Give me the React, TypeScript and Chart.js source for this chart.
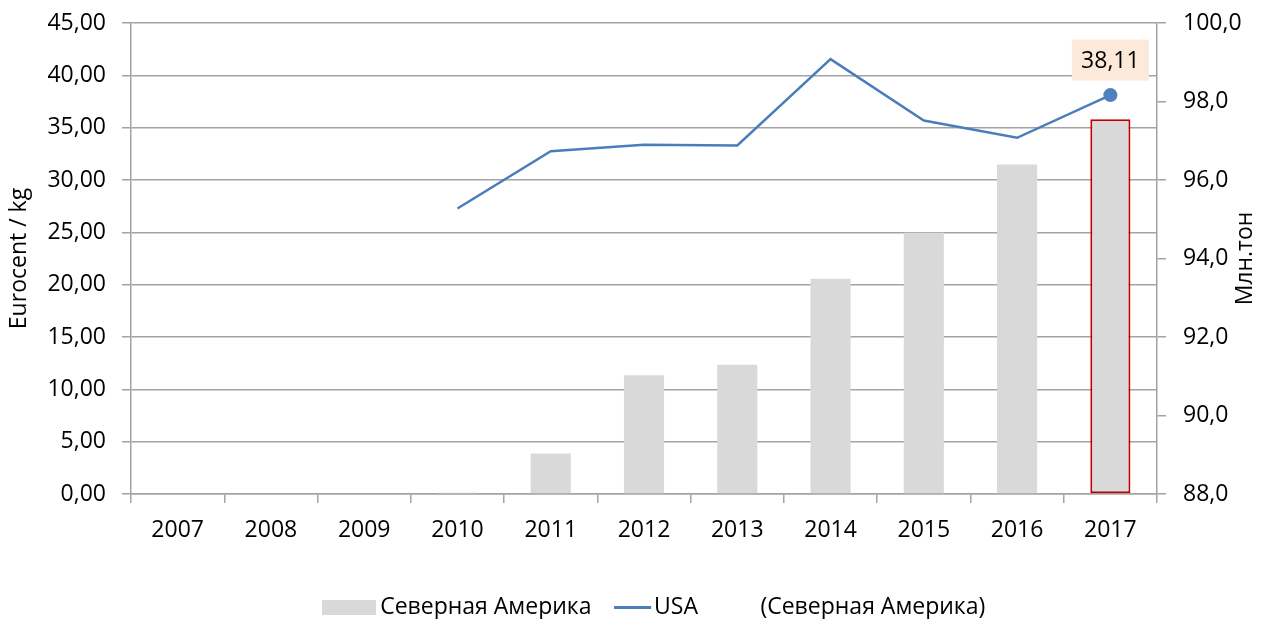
import React, { useEffect, useRef } from "react";
import { Chart, registerables } from "chart.js";

Chart.register(...registerables);

const years = ["2007", "2008", "2009", "2010", "2011", "2012", "2013", "2014", "2015", "2016", "2017"];
const northAmerica = [null, null, null, 0.12, 3.87, 11.35, 12.35, 20.56, 24.95, 31.47, 35.8];
const usa = [null, null, null, 27.28, 32.75, 33.36, 33.3, 41.55, 35.69, 34.03, 38.11];
const highlight = [null, null, null, null, null, null, null, null, null, null, null];

const seriesNames = ["Северная Америка", "USA", "(Северная Америка)"];
const leftTitle = "Eurocent / kg";
const rightTitle = "Млн.тон";

const FONT = "'Open Sans', 'Noto Sans', sans-serif";
const FS = 23;
const GRID = "#a3a3a3";
const BLUE = "#4a7ebb";
const GRAY = "#d9d9d9";
const RED = "#c00000";

function makeMarker(w: number, h: number, color: string | null, x0 = 0, x1 = w) {
  const c = document.createElement("canvas");
  c.width = w;
  c.height = h;
  const ctx = c.getContext("2d")!;
  if (color) {
    ctx.fillStyle = color;
    ctx.fillRect(x0, 0, x1 - x0, h);
  }
  return c;
}

const labelPlugin = {
  id: "lastLabel",
  afterDatasetsDraw(chart: any) {
    const meta = chart.getDatasetMeta(1);
    const data = chart.data.datasets[1].data;
    const idx = data.length - 1;
    const pt = meta.data[idx];
    if (!pt) return;
    const ctx = chart.ctx;
    const text = Number(data[idx]).toFixed(2).replace(".", ",");
    const cx = pt.x;
    const cy = pt.y - 35;
    ctx.save();
    ctx.fillStyle = "#fde9d9";
    ctx.fillRect(cx - 38.5, cy - 20.5, 77, 41);
    ctx.fillStyle = "#000";
    ctx.font = `${FS}px ${FONT}`;
    ctx.textAlign = "center";
    ctx.textBaseline = "middle";
    ctx.fillText(text, cx, cy + 1);
    ctx.restore();
  },
};

const rightTitlePlugin = {
  id: "rightTitle",
  afterDraw(chart: any) {
    const { ctx, chartArea } = chart;
    ctx.save();
    ctx.translate(1245, (chartArea.top + chartArea.bottom) / 2);
    ctx.rotate(-Math.PI / 2);
    ctx.fillStyle = "#000";
    ctx.font = `${FS}px ${FONT}`;
    ctx.textAlign = "center";
    ctx.textBaseline = "middle";
    ctx.fillText(rightTitle, 0, 0);
    ctx.restore();
  },
};

const legendShiftPlugin = {
  id: "legendShift",
  afterLayout(chart: any) {
    if (chart.legend) {
      chart.legend.left += 27;
      chart.legend.right += 27;
    }
  },
};

export default function App() {
  const ref = useRef<HTMLCanvasElement | null>(null);
  useEffect(() => {
    if (!ref.current) return;
    const n = years.length;
    const markers = [
      makeMarker(54, 15, GRAY),
      makeMarker(80, 3, BLUE, 31, 68),
      makeMarker(2, 2, null),
    ];
    const chart = new Chart(ref.current, {
      type: "bar",
      data: {
        labels: years,
        datasets: [
          {
            type: "bar",
            label: seriesNames[0],
            data: northAmerica,
            backgroundColor: GRAY,
            borderColor: years.map((_, i) => (i === n - 1 ? RED : "rgba(0,0,0,0)")),
            borderWidth: years.map((_, i) => (i === n - 1 ? 2 : 0)),
            borderSkipped: false,
            barPercentage: 0.86,
            categoryPercentage: 0.5,
            yAxisID: "y",
            order: 2,
          } as any,
          {
            type: "line",
            label: seriesNames[1],
            data: usa,
            borderColor: BLUE,
            backgroundColor: "#4f81bd",
            borderWidth: 2.5,
            pointStyle: "circle",
            pointRadius: years.map((_, i) => (i === n - 1 ? 7 : 0)),
            pointHoverRadius: 0,
            pointBorderWidth: 0,
            pointBackgroundColor: "#4f81bd",
            tension: 0,
            spanGaps: false,
            yAxisID: "y",
            order: 1,
          } as any,
          {
            type: "line",
            label: seriesNames[2],
            data: highlight,
            borderColor: "rgba(0,0,0,0)",
            backgroundColor: "rgba(0,0,0,0)",
            pointRadius: 0,
            yAxisID: "y",
            order: 3,
          } as any,
        ],
      },
      options: {
        responsive: false,
        animation: false,
        events: [],
        layout: { padding: { top: 23, left: 0, right: 0, bottom: -10 } },
        plugins: {
          tooltip: { enabled: false },
          legend: {
            position: "bottom",
            labels: {
              usePointStyle: true,
              pointStyleWidth: 39,
              boxHeight: 15,
              padding: 12,
              color: "#000",
              font: { family: FONT, size: FS },
              sort: (a: any, b: any) => a.datasetIndex - b.datasetIndex,
              generateLabels: (c: any) => {
                const items = (Chart.defaults.plugins.legend.labels as any).generateLabels(c);
                items.forEach((it: any) => {
                  it.pointStyle = markers[it.datasetIndex];
                });
                return items;
              },
            },
          },
        },
        scales: {
          x: {
            grid: {
              offset: true,
              drawOnChartArea: false,
              drawTicks: true,
              tickLength: 9,
              color: GRID,
              lineWidth: 1.5,
            },
            border: { color: GRID, width: 1.5 },
            ticks: { color: "#000", padding: 14, font: { family: FONT, size: FS }, maxRotation: 0 },
            afterFit: (s: any) => {
              s.height = 90;
            },
          },
          y: {
            position: "left",
            min: 0,
            max: 45,
            ticks: {
              stepSize: 5,
              color: "#000",
              padding: 16,
              font: { family: FONT, size: FS },
              callback: (v: any) => Number(v).toFixed(2).replace(".", ","),
            },
            grid: { color: GRID, lineWidth: 1.5, tickLength: 9 },
            border: { color: GRID, width: 1.5 },
            title: {
              display: true,
              text: leftTitle,
              color: "#000",
              font: { family: FONT, size: FS },
              padding: { top: 6, bottom: 4 },
            },
            afterFit: (s: any) => {
              s.width = 131;
              s.paddingTop = 0;
              s.paddingBottom = 0;
            },
          },
          y1: {
            position: "right",
            min: 88,
            max: 100,
            ticks: {
              stepSize: 2,
              color: "#000",
              padding: 17,
              font: { family: FONT, size: FS },
              callback: (v: any) => Number(v).toFixed(1).replace(".", ","),
            },
            grid: { drawOnChartArea: false, color: GRID, lineWidth: 1.5, tickLength: 9 },
            border: { color: GRID, width: 1.5 },
            title: { display: false },
            afterFit: (s: any) => {
              s.width = 104;
              s.paddingTop = 0;
              s.paddingBottom = 0;
            },
          },
        },
      },
      plugins: [labelPlugin, rightTitlePlugin, legendShiftPlugin],
    });
    return () => chart.destroy();
  }, []);
  return (
    <div style={{ position: "fixed", left: 0, top: 0, width: 1261, height: 619, background: "#fff" }}>
      <canvas ref={ref} width={1261} height={619} style={{ width: 1261, height: 619, display: "block" }} />
    </div>
  );
}
